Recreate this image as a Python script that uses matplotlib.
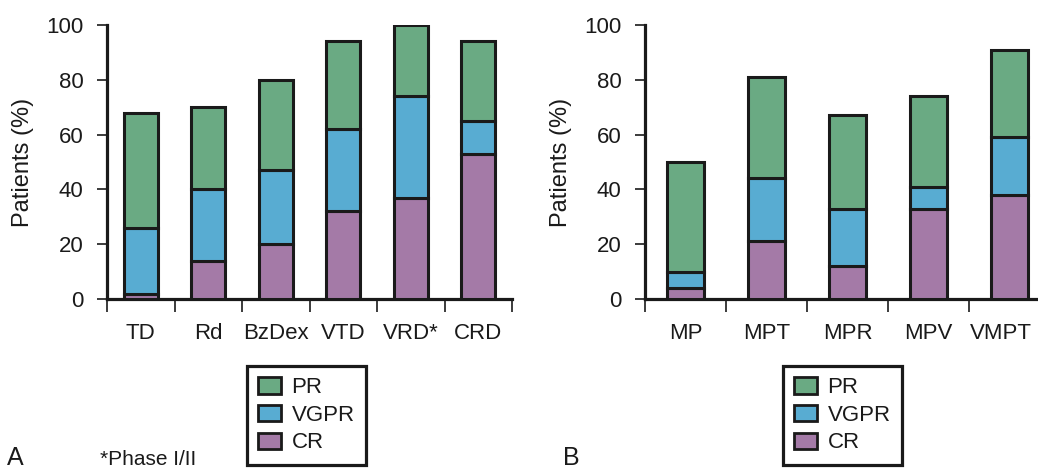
import matplotlib
matplotlib.use("Agg")
import matplotlib.pyplot as plt
import matplotlib.transforms as mtransforms
import numpy as np
from matplotlib.patches import Patch

plt.rcParams["font.family"] = ["Liberation Sans", "DejaVu Sans"]

# cumulative response rates (% of patients): CR, CR+VGPR, CR+VGPR+PR
regimens_a = ["TD", "Rd", "BzDex", "VTD", "VRD*", "CRD"]
cr_a = [2, 14, 20, 32, 37, 53]
vgpr_a = [26, 40, 47, 62, 74, 65]
pr_a = [68, 70, 80, 94, 100, 94]

regimens_b = ["MP", "MPT", "MPR", "MPV", "VMPT"]
cr_b = [4, 21, 12, 33, 38]
vgpr_b = [10, 44, 33, 41, 59]
pr_b = [50, 81, 67, 74, 91]

col_pr = "#6aaa83"
col_vgpr = "#58acd2"
col_cr = "#a47aa7"
edge = "#1a1a1a"


def stacked(ax, names, cr, vgpr, pr, width):
    x = np.arange(len(names))
    cr = np.array(cr)
    vgpr = np.array(vgpr)
    pr = np.array(pr)
    kw = dict(width=width, edgecolor=edge, linewidth=2.2, zorder=3)
    ax.bar(x, cr, color=col_cr, **kw)
    ax.bar(x, vgpr - cr, bottom=cr, color=col_vgpr, **kw)
    ax.bar(x, pr - vgpr, bottom=vgpr, color=col_pr, **kw)

    ax.set_xlim(-0.5, len(names) - 0.5)
    ax.set_ylim(0, 100)
    ax.set_yticks([0, 20, 40, 60, 80, 100])
    ax.set_xticks(np.arange(len(names) + 1) - 0.5)
    ax.set_xticklabels([])
    ax.set_xticks(x, minor=True)
    ax.set_xticklabels(names, minor=True)
    ax.tick_params(axis="x", which="major", direction="out", length=9,
                   width=1.2, color=edge)
    ax.tick_params(axis="x", which="minor", length=0, pad=17, labelsize=16,
                   labelcolor="#1a1a1a")
    ax.tick_params(axis="y", direction="out", length=7, width=1.2,
                   color=edge, pad=10, labelsize=16, labelcolor="#1a1a1a")
    for s in ["top", "right"]:
        ax.spines[s].set_visible(False)
    for s in ["left", "bottom"]:
        ax.spines[s].set_linewidth(2.3)
        ax.spines[s].set_color(edge)
    ax.set_ylabel("Patients (%)", fontsize=17, labelpad=9, color="#1a1a1a")


fig = plt.figure(figsize=(10.38, 4.68), dpi=100)

ax_a = fig.add_axes([107 / 1038, 169 / 468, 405 / 1038, 274 / 468])
stacked(ax_a, regimens_a, cr_a, vgpr_a, pr_a, 0.5)

ax_b = fig.add_axes([645 / 1038, 169 / 468, 405 / 1038, 274 / 468])
stacked(ax_b, regimens_b, cr_b, vgpr_b, pr_b, 0.45)

# last label sits right at the figure edge, pull it in a little
last = ax_b.get_xticklabels(minor=True)[-1]
last.set_transform(last.get_transform() +
                   mtransforms.ScaledTranslation(-6 / 72, 0, fig.dpi_scale_trans))

handles = [Patch(facecolor=col_pr, edgecolor=edge, linewidth=2, label="PR"),
           Patch(facecolor=col_vgpr, edgecolor=edge, linewidth=2, label="VGPR"),
           Patch(facecolor=col_cr, edgecolor=edge, linewidth=2, label="CR")]

for left in [247 / 1038, 783 / 1038]:
    leg = fig.legend(handles=handles, loc="upper left",
                     bbox_to_anchor=(left, 1 - 366 / 468), fontsize=16,
                     frameon=True, fancybox=False, framealpha=1,
                     handlelength=1.05, handleheight=0.75, handletextpad=0.45,
                     labelspacing=0.3, borderpad=0.5, borderaxespad=0)
    frame = leg.get_frame()
    frame.set_edgecolor(edge)
    frame.set_linewidth(2.3)
    for t in leg.get_texts():
        t.set_color("#1a1a1a")

fig.text(7 / 1038, 1 - 465 / 468, "A", fontsize=18, va="baseline",
         color="#1a1a1a")
fig.text(100 / 1038, 1 - 465 / 468, "*Phase I/II", fontsize=15,
         va="baseline", color="#1a1a1a")
fig.text(563 / 1038, 1 - 465 / 468, "B", fontsize=18, va="baseline",
         color="#1a1a1a")

fig.savefig("out.png", dpi=100)
